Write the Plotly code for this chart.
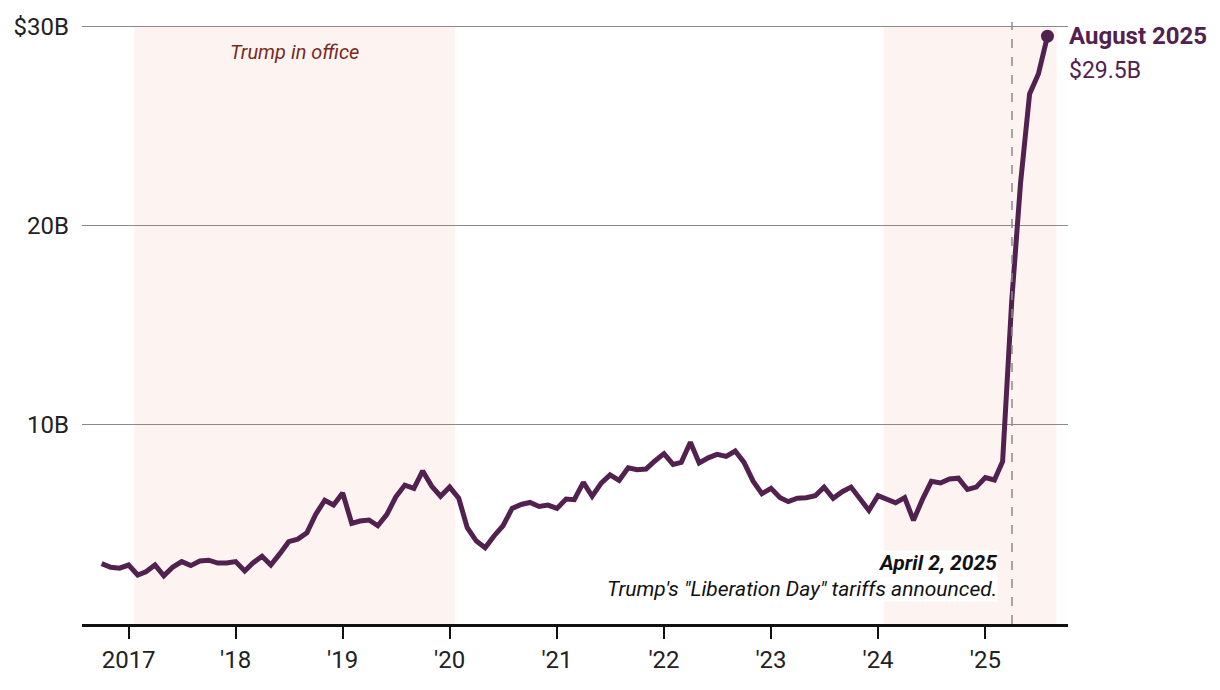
import plotly.graph_objects as go
import pandas as pd

# Monthly values, Oct 2016 - Aug 2025 (billions of dollars)
start_month = "2016-10-01"
values = [
    3.03, 2.85, 2.80,                                                        # 2016 Oct-Dec
    2.96, 2.46, 2.62, 2.96, 2.42, 2.86, 3.13, 2.93, 3.16, 3.20, 3.06, 3.06,  # 2017
    3.13, 2.66, 3.06, 3.40, 2.96, 3.53, 4.13, 4.26, 4.57, 5.50, 6.21, 5.97,  # 2018
    6.58, 5.05, 5.17, 5.22, 4.93, 5.50, 6.37, 6.97, 6.81, 7.68, 6.91, 6.41,  # 2019
    6.87, 6.31, 4.83, 4.16, 3.83, 4.43, 4.93, 5.80, 6.00, 6.10, 5.90, 5.97,  # 2020
    5.80, 6.27, 6.24, 7.11, 6.41, 7.07, 7.48, 7.21, 7.84, 7.74, 7.78, 8.18,  # 2021
    8.55, 8.01, 8.11, 9.12, 8.08, 8.34, 8.51, 8.41, 8.68, 8.11, 7.17, 6.54,  # 2022
    6.81, 6.34, 6.14, 6.31, 6.34, 6.44, 6.87, 6.31, 6.64, 6.87, 6.31, 5.70,  # 2023
    6.44, 6.22, 6.08, 6.34, 5.20, 6.27, 7.16, 7.08, 7.28, 7.32, 6.75, 6.87,  # 2024
    7.35, 7.23, 8.16, 16.2, 22.1, 26.6, 27.6, 29.5,                          # 2025 Jan-Aug
]
dates = pd.date_range(start_month, periods=len(values), freq="MS")

tick_dates = ["2017-01-01", "2018-01-01", "2019-01-01", "2020-01-01", "2021-01-01",
              "2022-01-01", "2023-01-01", "2024-01-01", "2025-01-01"]
tick_labels = ["2017", "'18", "'19", "'20", "'21", "'22", "'23", "'24", "'25"]
y_ticks = [10, 20, 30]
y_labels = ["10B", "20B", "$30B"]

office_periods = [("2017-01-20", "2020-01-20"), ("2024-01-20", "2025-09-01")]
liberation_day = "2025-04-02"

LINE = "#52214f"
SHADE = "#fdf4f2"
FONT = "Roboto"

fig = go.Figure()
fig.add_trace(go.Scatter(
    x=dates, y=values, mode="lines",
    line=dict(color=LINE, width=5), hoverinfo="skip", showlegend=False,
))
fig.add_trace(go.Scatter(
    x=[dates[-1]], y=[values[-1]], mode="markers",
    marker=dict(color=LINE, size=13), hoverinfo="skip", showlegend=False,
))

for s, e in office_periods:
    fig.add_shape(type="rect", xref="x", yref="y", x0=s, x1=e, y0=0, y1=30,
                  fillcolor=SHADE, line=dict(width=0), layer="below")

fig.add_shape(type="line", xref="x", yref="paper", x0=liberation_day, x1=liberation_day,
              y0=0, y1=1.005, line=dict(color="#8c8c8c", width=1.5, dash="dash"))

fig.add_annotation(x="2018-07-21", y=28.7, xref="x", yref="y", text="<i>Trump in office</i>",
                   showarrow=False, font=dict(family=FONT, size=20, color="#7a2a20"))

fig.add_annotation(x=1, y=values[-1], xref="paper", yref="y", xanchor="left", yanchor="middle",
                   text="<b>August 2025</b>", showarrow=False, xshift=-1,
                   font=dict(family=FONT, size=24, color=LINE))
fig.add_annotation(x=1, y=values[-1], xref="paper", yref="y", xanchor="left", yanchor="middle",
                   text="$29.5B", showarrow=False, xshift=-1, yshift=-34,
                   font=dict(family=FONT, size=23, color=LINE))

fig.add_annotation(x=liberation_day, y=3.05, xref="x", yref="y", xanchor="right", yanchor="middle",
                   text="<b><i>April 2, 2025</i></b>", showarrow=False, xshift=-14,
                   bgcolor="white", borderpad=0,
                   font=dict(family=FONT, size=21, color="#111111"))
fig.add_annotation(x=liberation_day, y=1.75, xref="x", yref="y", xanchor="right", yanchor="middle",
                   text="<i>Trump's \"Liberation Day\" tariffs announced.</i>", showarrow=False,
                   xshift=-14, bgcolor="white", borderpad=0,
                   font=dict(family=FONT, size=21, color="#111111"))

fig.update_xaxes(
    range=["2016-07-26", "2025-10-10"], tickvals=tick_dates, ticktext=tick_labels,
    showgrid=False, zeroline=False, showline=True, linecolor="#111111", linewidth=2.5,
    ticks="outside", ticklen=12, tickwidth=2, tickcolor="#111111",
    tickfont=dict(family=FONT, size=24, color="#222222"),
)
fig.update_yaxes(
    range=[0, 30.06], tickvals=y_ticks, ticktext=y_labels,
    showgrid=True, gridcolor="#8a8a8a", gridwidth=1, zeroline=False, showline=False,
    ticks="", ticklabelstandoff=12,
    tickfont=dict(family=FONT, size=24, color="#222222"),
)
fig.update_layout(
    width=1220, height=690, margin=dict(l=82, r=152, t=25, b=66),
    paper_bgcolor="white", plot_bgcolor="white", showlegend=False,
    font=dict(family=FONT),
)
fig.write_html("out.html", config={"displayModeBar": False},
               post_script="document.body.style.margin='0';")
